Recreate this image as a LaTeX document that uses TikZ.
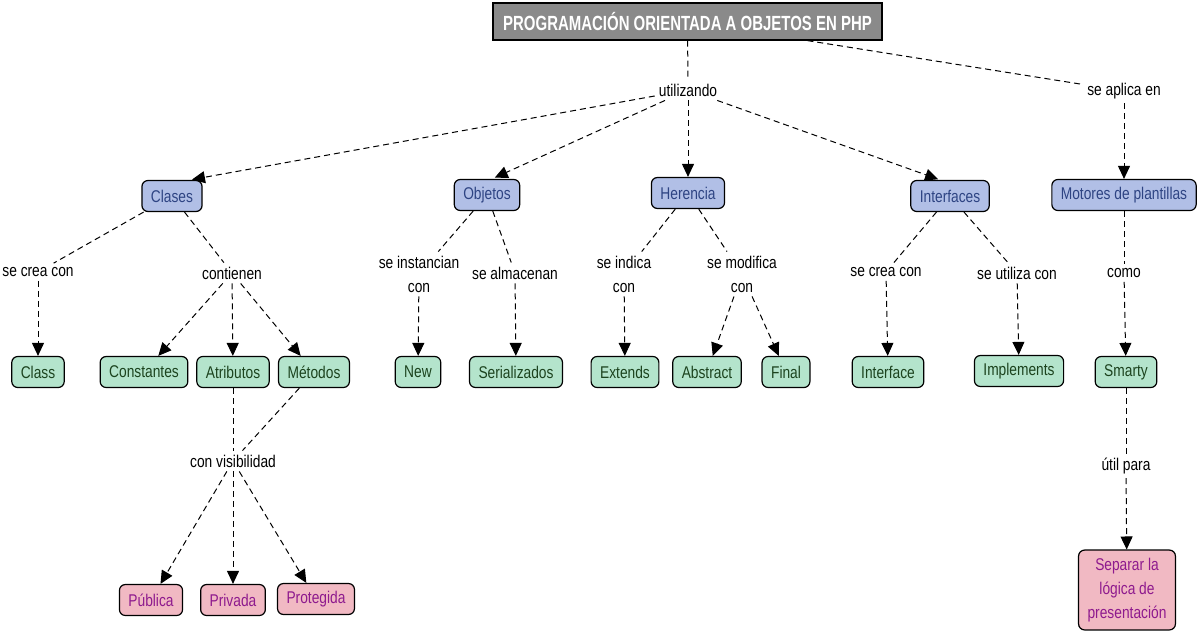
\documentclass[tikz,border=0pt]{standalone}
\usepackage{fontspec}
\setmainfont{Liberation Sans}[FakeStretch=0.81]
\newfontfamily\titlefont{Liberation Sans}[FakeStretch=0.73]
\usetikzlibrary{arrows.meta}
\definecolor{bluefill}{HTML}{B1BFE6}
\definecolor{bluetext}{HTML}{2E4483}
\definecolor{greenfill}{HTML}{B4E4CC}
\definecolor{greentext}{HTML}{1C431E}
\definecolor{pinkfill}{HTML}{F1B9C3}
\definecolor{pinktext}{HTML}{8E1A8E}
\definecolor{titlefill}{HTML}{8A8A8A}
\tikzset{
  base/.style={font=\fontsize{17}{24}\selectfont},
  box/.style={base, draw=black, line width=1.2pt, rounded corners=6pt, minimum height=31pt, inner xsep=9pt, inner ysep=3pt, align=center},
  bluebox/.style={box, fill=bluefill, text=bluetext},
  greenbox/.style={box, fill=greenfill, text=greentext},
  pinkbox/.style={box, fill=pinkfill, text=pinktext},
  titlebox/.style={draw=black, line width=1.2pt, fill=titlefill, text=white, font=\titlefont\bfseries\fontsize{20.5}{22}\selectfont, minimum width=389pt, minimum height=37pt},
  lbl/.style={base, text=black, inner sep=4pt, align=center},
  link/.style={draw=black, line width=1pt, dash pattern=on 6pt off 4pt},
  arr/.style={link, -{Triangle[length=13pt,width=12pt]}}
}
\begin{document}
\begin{tikzpicture}[x=1pt,y=-1pt]
\useasboundingbox (0,0) rectangle (1201,634);
% nodes
\node[titlebox] (t) at (687.5,21.5) {PROGRAMACIÓN ORIENTADA A OBJETOS EN PHP};
\node[lbl] (u) at (688,90) {utilizando};
\node[lbl] (sa) at (1124,91) {se aplica en};
\node[bluebox] (clases) at (172,196) {Clases};
\node[bluebox] (objetos) at (487,195) {Objetos};
\node[bluebox] (herencia) at (688,193) {Herencia};
\node[bluebox] (interfaces) at (950,196) {Interfaces};
\node[bluebox] (motores) at (1124,195) {Motores de plantillas};
\node[lbl] (sc1) at (38,272) {se crea con};
\node[lbl] (cont) at (232,273) {contienen};
\node[greenbox] (class) at (38,372) {Class};
\node[greenbox] (const) at (144,372) {Constantes};
\node[greenbox] (atrib) at (233,372) {Atributos};
\node[greenbox] (metod) at (314,372) {Métodos};
\node[lbl] (cv) at (233,461) {con visibilidad};
\node[pinkbox] (pub) at (151,600) {Pública};
\node[pinkbox] (priv) at (233,600) {Privada};
\node[pinkbox] (prot) at (316,599) {Protegida};
\node[lbl] (si) at (419,274) {se instancian\\con};
\node[lbl] (salm) at (515,273) {se almacenan};
\node[greenbox] (new) at (418,372) {New};
\node[greenbox] (ser) at (516,372) {Serializados};
\node[lbl] (sind) at (624,274) {se indica\\con};
\node[lbl] (smod) at (742,274) {se modifica\\con};
\node[greenbox] (ext) at (625,372) {Extends};
\node[greenbox] (abs) at (707,372) {Abstract};
\node[greenbox] (fin) at (786,372) {Final};
\node[lbl] (sc2) at (886,272) {se crea con};
\node[lbl] (su) at (1017,273) {se utiliza con};
\node[greenbox] (iface) at (888,372) {Interface};
\node[greenbox] (impl) at (1019,371) {Implements};
\node[lbl] (como) at (1124,273) {como};
\node[greenbox] (smarty) at (1126,372) {Smarty};
\node[lbl] (util) at (1126,466) {útil para};
\node[pinkbox, inner ysep=8pt] (sep) at (1127,590) {Separar la\\lógica de\\presentación};
% connectors
\draw[link] (t) -- (u);
\draw[link] (t) -- (sa);
\draw[arr, shorten >=2pt] (u) -- ([xshift=18pt]clases.north);
\draw[arr, shorten >=3pt] (u) -- ([xshift=5pt]objetos.north);
\draw[arr] (u) -- (herencia);
\draw[arr, shorten >=2pt] (u) -- ([xshift=-10pt]interfaces.north);
\draw[arr] (sa) -- (motores);
\draw[link] (clases) -- (sc1);
\draw[arr] (sc1) -- (class);
\draw[link] (clases) -- (cont);
\draw[arr] (cont) -- (const);
\draw[arr] (cont) -- (atrib);
\draw[arr] (cont) -- (metod);
\draw[link] (atrib) -- (cv);
\draw[link] (metod) -- (cv);
\draw[arr] (cv) -- (pub);
\draw[arr] (cv) -- (priv);
\draw[arr] (cv) -- (prot);
\draw[link] (objetos) -- (si);
\draw[arr] (si) -- (new);
\draw[link] (objetos) -- (salm);
\draw[arr] (salm) -- (ser);
\draw[link] (herencia) -- (sind);
\draw[arr] (sind) -- (ext);
\draw[link] (herencia) -- (smod);
\draw[arr] (smod) -- (abs);
\draw[arr] (smod) -- (fin);
\draw[link] (interfaces) -- (sc2);
\draw[arr] (sc2) -- (iface);
\draw[link] (interfaces) -- (su);
\draw[arr] (su) -- (impl);
\draw[link] (motores) -- (como);
\draw[arr] (como) -- (smarty);
\draw[link] (smarty) -- (util);
\draw[arr] (util) -- (sep);
\end{tikzpicture}
\end{document}
